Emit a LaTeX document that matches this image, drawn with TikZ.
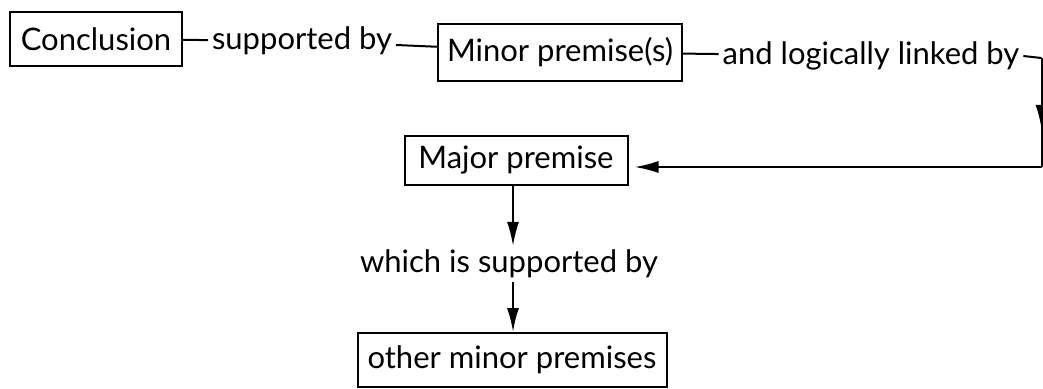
\documentclass[tikz,border=0pt]{standalone}
\usepackage{fontspec}
\setmainfont{Lato}
\usetikzlibrary{arrows.meta,decorations.markings}
\begin{document}
\begin{tikzpicture}[x=1pt,y=-1pt,>={Latex[length=24pt,width=12pt]},
		font=\fontsize{31}{36}\selectfont,
		premise/.style={draw,line width=2pt,inner sep=0pt},
		link/.style={inner sep=3pt},
		every path/.style={line width=2pt}]
		\useasboundingbox (0,0) rectangle (1043,388);
		\node[premise,minimum width=172pt,minimum height=54pt] (concl) at (96,39) {Conclusion};
		\node[link] (supp) at (302,41) {supported by};
		\node[premise,minimum width=244pt,minimum height=57pt] (minor) at (560,52) {Minor premise(s)};
		\node[link] (linked) at (871,56) {and logically linked by};
		\node[premise,minimum width=223pt,minimum height=49pt] (major) at (516,160) {Major premise};
		\node[link] (which) at (509,264) {which is supported by};
		\node[premise,minimum width=309pt,minimum height=54pt] (other) at (512,360) {other minor premises};

		\draw (concl) -- (supp);
		\draw (supp) -- (minor);
		\draw (minor) -- (linked);

		\coordinate (ne) at (1041.5,58);
		\coordinate (se) at (1041.5,167);
		\draw (linked.east) -- (ne);
		\draw[postaction={decorate},decoration={markings,mark=at position 0.65 with {\arrow{>}}}] (ne) -- (se);
		\draw[->,shorten >=6pt] (se) -- (major.east |- se);
		\draw[->] (major.south -| 513,0) -- (which.north -| 513,0);
		\draw[->] (which.south -| 513,0) -- (other.north -| 513,0);
	\end{tikzpicture}
\end{document}
